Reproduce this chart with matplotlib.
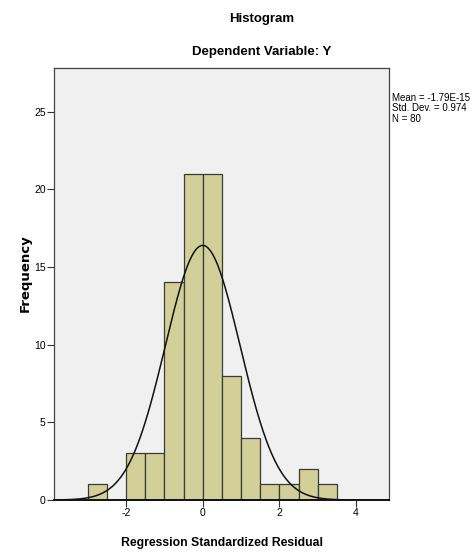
import numpy as np
import matplotlib.pyplot as plt

bin_edges = [-3.0, -2.5, -2.0, -1.5, -1.0, -0.5, 0.0, 0.5, 1.0, 1.5, 2.0, 2.5, 3.0, 3.5]
counts = [1, 0, 3, 3, 14, 21, 21, 8, 4, 1, 1, 2, 1]
mean = -1.79e-15
std = 0.974
n = 80
xticks = [-2, 0, 2, 4]
yticks = [0, 5, 10, 15, 20, 25]

narrow = ['Liberation Sans Narrow', 'Liberation Sans', 'DejaVu Sans']
plt.rcParams['font.family'] = ['Liberation Sans', 'DejaVu Sans']

fig = plt.figure(figsize=(4.75, 5.54), dpi=100)
ax = fig.add_axes([54 / 475, 1 - 500 / 554, 335 / 475, 432 / 554])
ax.set_facecolor('#f0f0f0')

edges = np.array(bin_edges)
ax.bar(edges[:-1], counts, width=np.diff(edges), align='edge',
       color='#d3cf98', edgecolor='#3a3a3a', linewidth=0.9, zorder=2)

# fitted normal curve
xs = np.linspace(-3.88, 4.86, 400)
width = bin_edges[1] - bin_edges[0]
ys = n * width * np.exp(-0.5 * ((xs - mean) / std) ** 2) / (std * np.sqrt(2 * np.pi))
ax.plot(xs, ys, color='#111111', linewidth=1.1, zorder=3)

ax.set_xlim(-3.88, 4.86)
ax.set_ylim(0, 27.8)
ax.set_xticks(xticks)
ax.set_yticks(yticks)
ax.set_xticklabels([str(t) for t in xticks], family=narrow, fontsize=7.5)
ax.set_yticklabels([str(t) for t in yticks], family=narrow, fontsize=7.5)
ax.tick_params(direction='out', length=5, width=0.8, color='#333333', pad=1)
for s in ax.spines.values():
    s.set_color('#444444')
    s.set_linewidth(0.9)
ax.spines['bottom'].set_linewidth(1.4)
ax.spines['bottom'].set_color('#111111')

ax.set_xlabel('Regression Standardized Residual', fontsize=8.8, fontweight='bold',
              family=narrow)
ax.xaxis.set_label_coords((222 - 54) / 335, -(543 - 500) / 432)
ax.set_ylabel('Frequency', fontsize=9.5, fontweight='bold', family='DejaVu Sans')
ax.yaxis.set_label_coords((25 - 54) / 335, (500 - 273) / 432)
ax.xaxis.label.set_va('center')
ax.yaxis.label.set_va('center')

fig.text(262 / 475, 1 - 19 / 554, 'Histogram', ha='center', va='center',
         fontsize=9.5, fontweight='bold', family=narrow)
fig.text(262 / 475, 1 - 52 / 554, 'Dependent Variable: Y', ha='center', va='center',
         fontsize=9.5, fontweight='bold', family=narrow)

stats = 'Mean = -1.79E-15\nStd. Dev. = 0.974\nN = 80'
fig.text(392 / 475, 1 - 93 / 554, stats, ha='left', va='top', fontsize=7,
         family=narrow, linespacing=1.05)

fig.savefig('out.png', dpi=100)
